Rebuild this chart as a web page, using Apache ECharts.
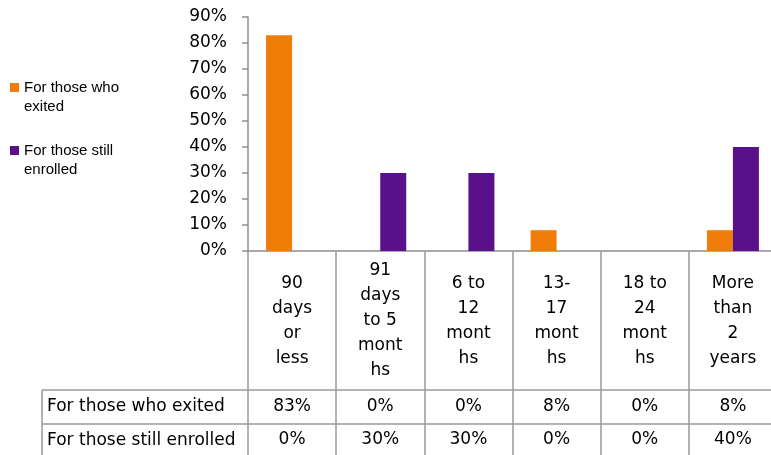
<!DOCTYPE html>
<html>
<head>
<meta charset="utf-8">
<script src="https://cdn.jsdelivr.net/npm/echarts@6/dist/echarts.min.js"></script>
<style>
html,body{margin:0;padding:0;background:#fff;}
#chart{width:771px;height:455px;}
</style>
</head>
<body>
<div id="chart"></div>
<script>
// ---- data ----
var categories = ["90\ndays\nor\nless", "91\ndays\nto 5\nmont\nhs", "6 to\n12\nmont\nhs", "13-\n17\nmont\nhs", "18 to\n24\nmont\nhs", "More\nthan\n2\nyears"];
var seriesNames = ["For those who exited", "For those still enrolled"];
var legendLabels = ["For those who\nexited", "For those still\nenrolled"];
var exited = [83, 0, 0, 8, 0, 8];
var enrolled = [0, 30, 30, 0, 0, 40];
var yTicks = [0, 10, 20, 30, 40, 50, 60, 70, 80, 90];

var FONT = 'DejaVu Sans';
var LINE = '#8f8f8f';
var chart = echarts.init(document.getElementById('chart'));

var option = {
  backgroundColor: '#ffffff',
  animation: false,
  legend: {
    orient: 'vertical',
    left: 10,
    top: 59,
    padding: 0,
    itemGap: 6,
    itemWidth: 9,
    itemHeight: 9,
    icon: 'rect',
    data: seriesNames,
    formatter: function (name) {
      return '\n' + legendLabels[seriesNames.indexOf(name)];
    },
    textStyle: { fontFamily: 'Liberation Sans', fontSize: 15, color: '#000', lineHeight: 19 }
  },
  grid: { left: 248, top: 17, width: 529, height: 234, containLabel: false, outerBoundsMode: 'none' },
  yAxis: {
    type: 'value',
    min: yTicks[0],
    max: yTicks[yTicks.length - 1],
    interval: 10,
    axisLine: { show: true, lineStyle: { color: LINE, width: 1.5 } },
    axisTick: { show: true, length: 6, lineStyle: { color: LINE, width: 1.5 } },
    splitLine: { show: false },
    axisLabel: { formatter: '{value}%', margin: 21, fontFamily: FONT, fontSize: 17, color: '#000' }
  },
  xAxis: [
    {
      type: 'category',
      data: categories,
      position: 'bottom',
      axisLine: { show: true, lineStyle: { color: LINE, width: 1.5 } },
      axisTick: { show: true, interval: 0, length: 210, lineStyle: { color: '#9a9a9a', width: 1.5 } },
      axisLabel: { interval: 0, margin: 70, verticalAlign: 'middle', lineHeight: 25, fontFamily: FONT, fontSize: 17, color: '#000' }
    },
    {
      type: 'category',
      data: categories,
      position: 'bottom',
      offset: 139,
      axisLine: { show: true, lineStyle: { color: '#9a9a9a', width: 1.5 } },
      axisTick: { show: false },
      axisLabel: { interval: 0, margin: 17, verticalAlign: 'middle', fontFamily: FONT, fontSize: 17, color: '#000',
        formatter: function (v, i) { return exited[i] + '%'; } }
    },
    {
      type: 'category',
      data: categories,
      position: 'bottom',
      offset: 173,
      axisLine: { show: true, lineStyle: { color: '#9a9a9a', width: 1.5 } },
      axisTick: { show: false },
      axisLabel: { interval: 0, margin: 16, verticalAlign: 'middle', fontFamily: FONT, fontSize: 17, color: '#000',
        formatter: function (v, i) { return enrolled[i] + '%'; } }
    }
  ],
  series: [
    { name: seriesNames[0], type: 'bar', xAxisIndex: 0, data: exited, barWidth: 26, barGap: '0%', itemStyle: { color: '#EF7D08' } },
    { name: seriesNames[1], type: 'bar', xAxisIndex: 0, data: enrolled, barWidth: 26, barGap: '0%', itemStyle: { color: '#5A108A' } }
  ],
  graphic: [
    { type: 'line', shape: { x1: 42, y1: 390, x2: 248, y2: 390 }, style: { stroke: '#9a9a9a', lineWidth: 1.5 } },
    { type: 'line', shape: { x1: 42, y1: 424, x2: 248, y2: 424 }, style: { stroke: '#9a9a9a', lineWidth: 1.5 } },
    { type: 'line', shape: { x1: 42, y1: 390, x2: 42, y2: 460 }, style: { stroke: '#9a9a9a', lineWidth: 1.5 } },
    { type: 'text', x: 47, y: 407, style: { text: seriesNames[0], fontFamily: FONT, fontSize: 17, fill: '#000', verticalAlign: 'middle' } },
    { type: 'text', x: 47, y: 441, style: { text: seriesNames[1], fontFamily: FONT, fontSize: 17, fill: '#000', verticalAlign: 'middle' } }
  ]
};
chart.setOption(option);
</script>
</body>
</html>
